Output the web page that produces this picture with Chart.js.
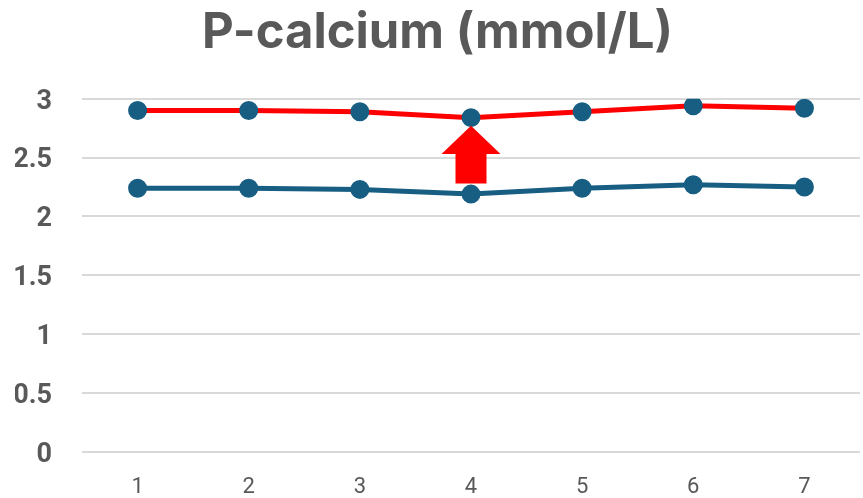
<!DOCTYPE html>
<html>
<head>
<meta charset="utf-8">
<script src="https://cdn.jsdelivr.net/npm/chart.js@4/dist/chart.umd.min.js"></script>
<style>
  html, body { margin: 0; padding: 0; background: #fff; }
  #wrap { width: 863px; height: 498px; }
</style>
</head>
<body>
<div id="wrap"><canvas id="chart"></canvas></div>
<script>
const categories = ['1', '2', '3', '4', '5', '6', '7']
const upperValues = [2.9, 2.9, 2.89, 2.84, 2.89, 2.94, 2.92]
const lowerValues = [2.24, 2.24, 2.23, 2.19, 2.24, 2.27, 2.25]
const yTicks = [0, 0.5, 1, 1.5, 2, 2.5, 3]

// arrow marker: category and y range (tip / head base / bottom) in data units
const arrowCategory = '4'
const arrowTip = 2.77
const arrowHeadBase = 2.53
const arrowBottom = 2.28

const TEXT = '#595959'
const MARKER = '#175E82'

const arrowPlugin = {
  id: 'arrow',
  afterDatasetsDraw (chart) {
    const { ctx, scales: { x, y } } = chart
    const cx = x.getPixelForValue(categories.indexOf(arrowCategory))
    const tip = y.getPixelForValue(arrowTip)
    const base = y.getPixelForValue(arrowHeadBase)
    const bottom = y.getPixelForValue(arrowBottom)
    const head = 29.5
    const shaft = 15.5
    ctx.save()
    ctx.fillStyle = '#FF0000'
    ctx.beginPath()
    ctx.moveTo(cx, tip)
    ctx.lineTo(cx + head, base)
    ctx.lineTo(cx + shaft, base)
    ctx.lineTo(cx + shaft, bottom)
    ctx.lineTo(cx - shaft, bottom)
    ctx.lineTo(cx - shaft, base)
    ctx.lineTo(cx - head, base)
    ctx.closePath()
    ctx.fill()
    ctx.restore()
  }
}

new Chart(document.getElementById('chart'), {
  type: 'line',
  data: {
    labels: categories,
    datasets: [
      {
        data: upperValues,
        borderColor: '#FF0000',
        borderWidth: 5,
        pointBackgroundColor: MARKER,
        pointBorderColor: MARKER,
        pointRadius: 7,
        tension: 0
      },
      {
        data: lowerValues,
        borderColor: MARKER,
        borderWidth: 5,
        pointBackgroundColor: MARKER,
        pointBorderColor: MARKER,
        pointRadius: 7,
        tension: 0
      }
    ]
  },
  options: {
    responsive: true,
    maintainAspectRatio: false,
    animation: false,
    layout: { autoPadding: false, padding: { left: 15, right: 3, top: 0, bottom: -31 } },
    plugins: {
      legend: { display: false },
      tooltip: { enabled: false },
      title: {
        display: true,
        text: 'P-calcium (mmol/L)',
        color: TEXT,
        font: { family: 'Inter', size: 49, weight: 'bold' },
        padding: { top: 4, bottom: 36 }
      }
    },
    scales: {
      x: {
        offset: true,
        grid: { display: false, drawTicks: false },
        border: { display: false },
        ticks: { color: TEXT, font: { family: 'Roboto', size: 22 }, padding: 22 }
      },
      y: {
        min: 0,
        max: 3,
        afterBuildTicks: (axis) => { axis.ticks = yTicks.map(v => ({ value: v })) },
        afterFit: (axis) => { axis.width = 67 },
        grid: { color: '#D9D9D9', lineWidth: 2, drawTicks: false },
        border: { display: false },
        ticks: {
          color: TEXT,
          font: { family: 'Roboto', size: 27, weight: 'bold' },
          padding: 30,
          labelOffset: 3,
          callback: (v) => String(v)
        }
      }
    }
  },
  plugins: [arrowPlugin]
})
</script>
</body>
</html>
